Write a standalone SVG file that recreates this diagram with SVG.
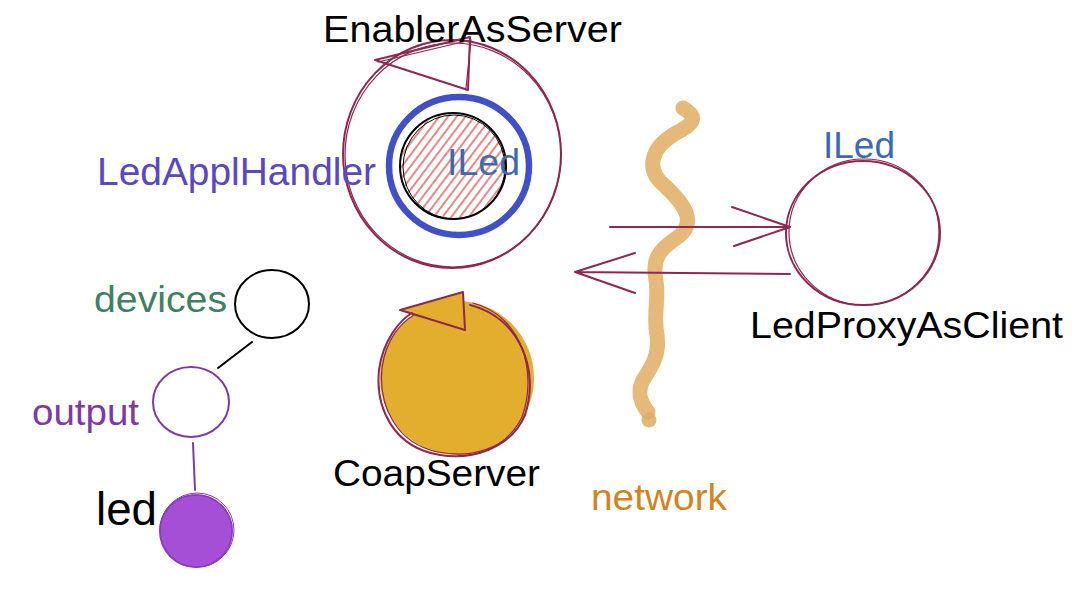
<svg xmlns="http://www.w3.org/2000/svg" width="1078" height="591" viewBox="0 0 1078 591">
<style>
text{font-family:"Liberation Sans",Arial,Helvetica,sans-serif;}
.m{fill:none;stroke:#8e2851;stroke-width:2;stroke-linecap:round;stroke-linejoin:round;}
.m1{fill:none;stroke:#8e2851;stroke-width:1.2;stroke-linecap:round;}
.blk{fill:#000;}
</style>
<defs>
<pattern id="hatch" width="7" height="7" patternUnits="userSpaceOnUse" patternTransform="rotate(37)">
<line x1="1" y1="0" x2="1" y2="7" stroke="#dd5555" stroke-width="1.4"/>
</pattern>
<clipPath id="innerClip"><ellipse cx="453" cy="166" rx="52" ry="52"/></clipPath>
</defs>
<rect width="1078" height="591" fill="#fff"/>

<g id="network">
<path d="M683,108 C700,118 692,125 676,133 C650,148 645,170 665,186 C685,205 697,222 678,237 C658,250 652,260 656,280 C659,300 653,315 657,335 C660,355 651,368 643,380 C637,392 640,402 648,412" fill="none" stroke="#dfad62" stroke-opacity="0.85" stroke-width="15" stroke-linecap="round" stroke-linejoin="round"/>
<circle cx="649" cy="420" r="7.5" fill="#dfad62" fill-opacity="0.85"/>
<text x="591" y="510" font-size="37" fill="#d1841f" textLength="136" lengthAdjust="spacingAndGlyphs">network</text>
</g>

<g id="EnablerAsServer">
<ellipse cx="452" cy="154" rx="109" ry="114" class="m"/>
<ellipse cx="453" cy="155" rx="108" ry="112" class="m1"/>
<path d="M375,60 L470,37 L468,90 Z" class="m"/>
<path d="M378,62 L471,40 L466,88" class="m1"/>
<text x="323" y="42" font-size="36" class="blk" textLength="299" lengthAdjust="spacingAndGlyphs">EnablerAsServer</text>
</g>

<g id="LedApplHandler">
<ellipse cx="459" cy="166" rx="70" ry="69" fill="none" stroke="#4150c6" stroke-width="6.5"/>
<text x="97" y="185" font-size="38" fill="#5a48c0" textLength="279" lengthAdjust="spacingAndGlyphs">LedApplHandler</text>
</g>

<g id="ILed">
<rect x="395" y="108" width="120" height="120" fill="url(#hatch)" clip-path="url(#innerClip)"/>
<ellipse cx="453" cy="166" rx="53" ry="53" fill="none" stroke="#000" stroke-width="2"/>
<ellipse cx="454" cy="167" rx="51" ry="52" fill="none" stroke="#000" stroke-width="1"/>
<text x="447" y="175" font-size="37" fill="#3d69b3" textLength="73" lengthAdjust="spacingAndGlyphs">ILed</text>
</g>

<g id="LedProxyAsClient">
<ellipse cx="863" cy="233" rx="77" ry="72" class="m"/>
<ellipse cx="864" cy="232" rx="75" ry="73" class="m1"/>
<text x="823" y="158" font-size="37" fill="#3d69b3" textLength="72" lengthAdjust="spacingAndGlyphs">ILed</text>
<text x="750" y="338" font-size="37" class="blk" textLength="313" lengthAdjust="spacingAndGlyphs">LedProxyAsClient</text>
</g>

<g id="CoapServer">
<circle cx="457" cy="378" r="77" fill="#e3ae2d"/>
<path d="M400,310 L463,292 L465,330 Z" fill="#e3ae2d"/>
<path d="M470,305 C520,318 540,370 525,415 C510,450 470,460 440,455 C395,448 375,410 379,370 C383,340 400,320 412,313" class="m"/>
<path d="M473,303 C522,316 538,372 522,417 C505,452 468,458 438,452 C398,444 378,408 382,368 C386,338 402,322 414,315" class="m1"/>
<path d="M400,310 L463,292 L465,330 Z" class="m"/>
<text x="333" y="486" font-size="37" class="blk" textLength="207" lengthAdjust="spacingAndGlyphs">CoapServer</text>
</g>

<g id="devices">
<ellipse cx="272" cy="304" rx="37" ry="34" fill="none" stroke="#000" stroke-width="2"/>
<text x="94" y="312" font-size="37" fill="#408062" textLength="133" lengthAdjust="spacingAndGlyphs">devices</text>
</g>

<g id="output">
<ellipse cx="191" cy="402" rx="38" ry="35" fill="none" stroke="#7d3aa5" stroke-width="2"/>
<text x="32" y="425" font-size="37" fill="#7d3aa5" textLength="107" lengthAdjust="spacingAndGlyphs">output</text>
</g>

<g id="led">
<circle cx="196" cy="531" r="37" fill="#a54fd6"/>
<circle cx="196" cy="531" r="36" fill="none" stroke="#8a3bbd" stroke-width="1.5"/>
<circle cx="197" cy="530" r="37" fill="none" stroke="#8a3bbd" stroke-width="1"/>
<text x="96" y="525" font-size="46" class="blk" textLength="61" lengthAdjust="spacingAndGlyphs">led</text>
</g>

<g id="connectors">
<line x1="252" y1="342" x2="218" y2="368" stroke="#000" stroke-width="2" stroke-linecap="round"/>
<line x1="193" y1="443" x2="195" y2="490" stroke="#7d3aa5" stroke-width="2" stroke-linecap="round"/>
<path d="M610,227 L790,227 M732,207 L790,227 L734,246" class="m"/>
<path d="M790,274 L575,272 M635,253 L575,272 L635,293" class="m"/>
</g>
</svg>
